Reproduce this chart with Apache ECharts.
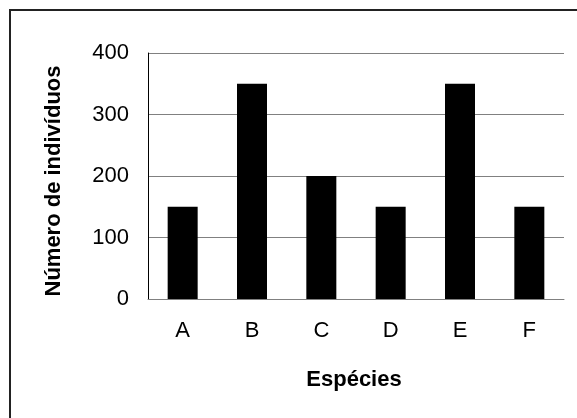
<!DOCTYPE html>
<html>
<head>
<meta charset="utf-8">
<script src="https://cdn.jsdelivr.net/npm/echarts@6/dist/echarts.min.js"></script>
<style>html,body{margin:0;padding:0;background:#fff}#c{width:577px;height:418px}</style>
</head>
<body>
<div id="c"></div>
<script>
const categories = ['A', 'B', 'C', 'D', 'E', 'F'];
const values = [150, 350, 200, 150, 350, 150];
const yTicks = [0, 100, 200, 300, 400];
const xTitle = 'Espécies';
const yTitle = 'Número de indivíduos';

const chart = echarts.init(document.getElementById('c'), null, {renderer: 'canvas'});
chart.setOption({
  animation: false,
  backgroundColor: '#fff',
  grid: {left: 148, right: 13, top: 53, bottom: 119, containLabel: false},
  xAxis: {
    type: 'category',
    data: categories,
    axisLine: {show: true, lineStyle: {color: '#808080', width: 1}},
    axisTick: {show: false},
    axisLabel: {fontFamily: 'Liberation Sans', fontSize: 22, color: '#000', margin: 21}
  },
  yAxis: {
    type: 'value',
    min: yTicks[0],
    max: yTicks[yTicks.length - 1],
    interval: 100,
    axisLine: {show: true, lineStyle: {color: '#000', width: 1}},
    axisTick: {show: false},
    splitLine: {show: true, lineStyle: {color: '#808080', width: 1}},
    axisLabel: {fontFamily: 'Liberation Sans', fontSize: 22, color: '#000', margin: 19}
  },
  series: [{
    type: 'bar',
    data: values,
    barWidth: 30,
    itemStyle: {color: '#000'}
  }],
  graphic: [
    {type: 'rect', shape: {x: 10, y: 10, width: 600, height: 500}, style: {fill: 'none', stroke: '#222', lineWidth: 2}, z: -1, silent: true},
    {type: 'text', x: 354, y: 380, style: {text: xTitle, font: 'bold 22px "Liberation Sans"', fill: '#000', textAlign: 'center', textVerticalAlign: 'middle'}},
    {type: 'text', x: 54, y: 181, rotation: Math.PI / 2, style: {text: yTitle, font: 'bold 22px "Liberation Sans"', fill: '#000', textAlign: 'center', textVerticalAlign: 'middle'}}
  ]
});
</script>
</body>
</html>
